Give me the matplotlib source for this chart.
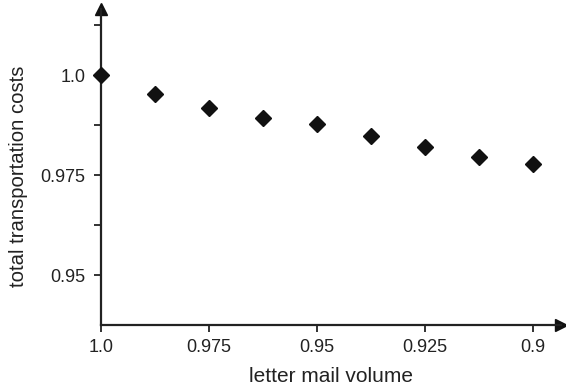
import numpy as np
import matplotlib.pyplot as plt
from matplotlib.ticker import FixedLocator

plt.rcParams['font.family'] = ['Liberation Sans', 'DejaVu Sans']

# letter mail volume (relative) and total transportation costs (relative)
volume = [1.0, 0.9875, 0.975, 0.9625, 0.95, 0.9375, 0.925, 0.9125, 0.9]
costs = [1.0, 0.9952, 0.9917, 0.9892, 0.9877, 0.9847, 0.9820, 0.9796, 0.9779]

xticks = [1.0, 0.975, 0.95, 0.925, 0.9]
xtick_labels = ['1.0', '0.975', '0.95', '0.925', '0.9']
yticks = [0.95, 0.975, 1.0]
ytick_labels = ['0.95', '0.975', '1.0']
yminor = [0.9625, 0.9875, 1.0125]

fig = plt.figure(figsize=(5.66, 3.89), dpi=100)
ax = fig.add_axes([0.1784, 0.1645, 0.8130, 0.8125])

ax.plot(volume, costs, linestyle='none', marker='D', color='#111111',
        markersize=8, clip_on=False, zorder=5)

ax.set_xlim(1.0, 0.8935)
ax.set_ylim(0.9375, 1.0166)

ax.set_xticks(xticks)
ax.set_xticklabels(xtick_labels)
ax.set_yticks(yticks)
ax.set_yticklabels(ytick_labels)
ax.yaxis.set_minor_locator(FixedLocator(yminor))

ax.tick_params(axis='both', which='both', direction='out', width=1.3,
               color='#222222', labelsize=13, labelcolor='#222222')
ax.tick_params(axis='x', which='major', length=5, pad=5)
ax.tick_params(axis='y', which='major', length=5, pad=6)
ax.tick_params(axis='y', which='minor', length=5)

for side in ['top', 'right']:
    ax.spines[side].set_visible(False)
for side in ['left', 'bottom']:
    ax.spines[side].set_linewidth(1.6)
    ax.spines[side].set_color('#222222')

# arrow heads at the ends of the axes
ax.plot(1, 0, marker='>', color='#111111', markersize=8,
        transform=ax.transAxes, clip_on=False)
ax.plot(0, 1, marker='^', color='#111111', markersize=8,
        transform=ax.transAxes, clip_on=False)

ax.set_xlabel('letter mail volume', fontsize=15, color='#222222', labelpad=8)
ax.set_ylabel('total transportation costs', fontsize=14.6, color='#222222')
ax.yaxis.set_label_coords(-0.159, 0.47)

fig.savefig('out.png', dpi=100)
